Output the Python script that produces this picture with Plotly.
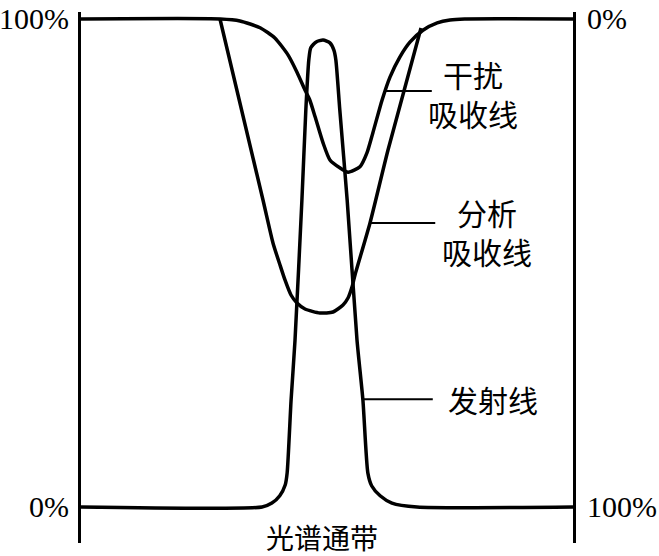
import numpy as np
import plotly.graph_objects as go

# ---- data (x: spectral position 0-100, y: percent) ----
# Emission line (left axis, 0% bottom -> 100% top)
emis_x = [0, 36.8, 38.8, 40.4, 41.5, 41.9, 42.7, 43.5, 44.9, 45.7, 46.3, 46.7, 47.8, 49.2,
          50.6, 51.4, 51.8, 52.6, 54.1, 56.1, 57.3, 58.3, 59.1, 60.8, 63.2, 68.3, 100]
emis_y = [0, 0, 0.8, 2.3, 4.5, 7.0, 21.9, 34.2, 62.9, 81.4, 91.6, 94.1, 95.3, 95.7,
          95.1, 93.6, 91.6, 81.4, 62.9, 34.2, 21.9, 7.0, 4.3, 2.3, 0.8, 0, 0]

# Interfering absorption line (right axis, 0% top -> 100% bottom)
intf_x = [0, 28.3, 32.3, 36.4, 39.4, 42.1, 43.9, 45.5, 46.5, 47.6, 49.2, 50.6, 52.6, 54.3,
          56.7, 58.1, 59.3, 61.2, 62.8, 64.8, 66.9, 69.5, 72.4, 75.0, 78.0, 100]
intf_y = [0, 0, 0.4, 1.8, 3.9, 7.4, 10.9, 14.5, 16.6, 20.1, 25.4, 28.9, 30.5, 31.4,
          30.3, 27.5, 23.4, 16.6, 11.9, 7.8, 4.7, 2.3, 0.8, 0.2, 0, 0]

# Analyte absorption line (right axis)
anal_x = [28.25, 36.99, 39.02, 40.45, 41.46, 42.68, 43.90, 45.53, 48.58, 51.22, 53.25,
          54.27, 55.08, 55.69, 58.74, 62.40, 69.11]
anal_y = [0, 37.09, 45.90, 50.41, 53.48, 56.56, 58.20, 59.43, 60.25, 60.04, 58.61,
          57.17, 54.92, 52.46, 41.80, 26.84, 1.84]

# tick labels
left_ticks = [0, 100]
left_ticktext = ["0%", "100%"]
right_ticks = [0, 100]
right_ticktext = ["0%", "100%"]

# text labels: text, x, y, axis
labels = ["干扰<br>吸收线", "分析<br>吸收线", "发射线"]
label_x = [79.7, 82.6, 83.7]
label_y = [15.27, 43.5, 22.1]
label_axis = ["y2", "y2", "y"]

# leader lines: curve, level (y), end x
leader_level = [14.75, 41.8, 22.1]
leader_end_x = [71.3, 72.0, 71.5]
leader_axis = ["y2", "y2", "y"]

bottom_label = "光谱通带"
bottom_label_x = 49.0
bottom_label_y = -6.1

# ---- figure ----
fig = go.Figure()
line_style = dict(color="black", width=3.5, shape="spline", smoothing=0.6)
fig.add_trace(go.Scatter(x=emis_x, y=emis_y, mode="lines", line=line_style, yaxis="y"))
fig.add_trace(go.Scatter(x=intf_x, y=intf_y, mode="lines", line=line_style, yaxis="y2"))
fig.add_trace(go.Scatter(x=anal_x, y=anal_y, mode="lines", line=line_style, yaxis="y2"))


def right_branch_x(xs, ys, level):
    xs = np.asarray(xs, float)
    ys = np.asarray(ys, float)
    i = int(np.argmax(ys))
    bx, by = xs[i:], ys[i:]
    return float(np.interp(level, by[::-1], bx[::-1]))


curves = [(intf_x, intf_y), (anal_x, anal_y), (emis_x, emis_y)]
for (cx, cy), lvl, ex, ax in zip(curves, leader_level, leader_end_x, leader_axis):
    sx = right_branch_x(cx, cy, lvl)
    fig.add_trace(go.Scatter(x=[sx, ex], y=[lvl, lvl], mode="lines",
                             line=dict(color="black", width=2), yaxis=ax))

label_font = dict(family="Noto Sans CJK SC", size=30, color="black")
for t, lx, ly, ax in zip(labels, label_x, label_y, label_axis):
    fig.add_annotation(text=t, x=lx, y=ly, xref="x", yref=ax, showarrow=False,
                       font=label_font, align="center")
fig.add_annotation(text=bottom_label, x=bottom_label_x, y=bottom_label_y, xref="x", yref="y",
                   showarrow=False, font=dict(family="Noto Sans CJK SC", size=28, color="black"))

tick_font = dict(family="Liberation Serif", size=30, color="black")
fig.update_layout(
    width=659, height=556,
    margin=dict(l=81, r=86, t=12, b=13, autoexpand=False),
    paper_bgcolor="white", plot_bgcolor="white",
    showlegend=False,
    xaxis=dict(range=[0, 100], visible=False, automargin=False),
    yaxis=dict(range=[-7.38, 101.43], showline=True, linewidth=3, linecolor="black",
               tickvals=left_ticks, ticktext=left_ticktext, ticks="", showgrid=False,
               zeroline=False, tickfont=tick_font, ticklabelstandoff=3, automargin=False,
               ticklabeloverflow="allow"),
    yaxis2=dict(range=[107.38, -1.43], overlaying="y", side="right", showline=True,
                linewidth=3, linecolor="black", tickvals=right_ticks,
                ticktext=right_ticktext, ticks="", showgrid=False, zeroline=False,
                tickfont=tick_font, ticklabelstandoff=5, automargin=False,
                ticklabeloverflow="allow"),
)

fig.write_html("out.html", config={"displayModeBar": False},
               post_script="document.body.style.margin='0';")
